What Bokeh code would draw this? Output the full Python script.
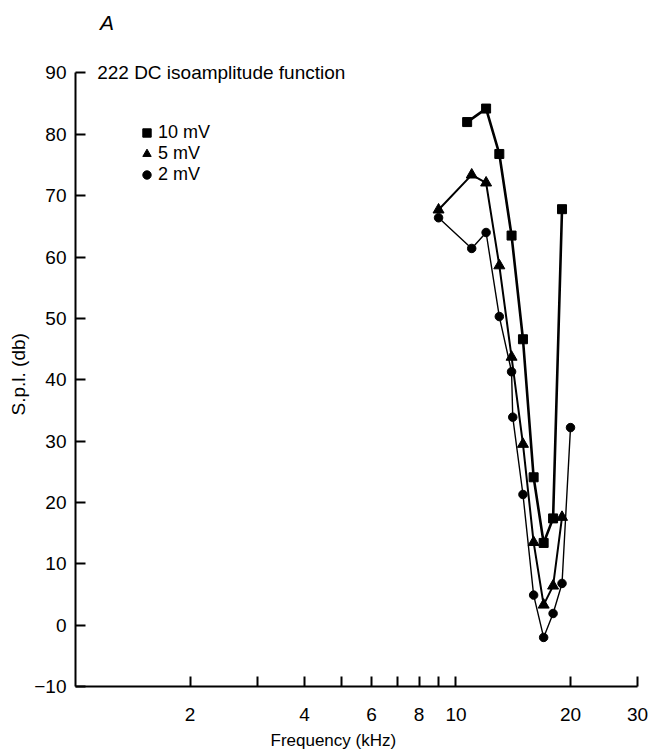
from bokeh.plotting import figure
from bokeh.models import FixedTicker, Legend, LegendItem, Label, Title
from bokeh.embed import file_html
from bokeh.resources import INLINE

# ---- data ----
freq_10mV = [10.7, 12, 13, 14, 15, 16, 17, 18, 19]
spl_10mV = [82.0, 84.2, 76.8, 63.5, 46.6, 24.1, 13.4, 17.4, 67.8]

freq_5mV = [9, 11, 12, 13, 14, 15, 16, 17, 18, 19]
spl_5mV = [67.7, 73.4, 72.1, 58.6, 43.7, 29.5, 13.5, 3.3, 6.4, 17.6]

freq_2mV = [9, 11, 12, 13, 14, 14.1, 15, 16, 17, 18, 19, 20]
spl_2mV = [66.4, 61.4, 64.0, 50.3, 41.3, 33.9, 21.3, 4.9, -2.0, 1.9, 6.8, 32.2]

x_ticks = [2, 3, 4, 5, 6, 7, 8, 9, 10, 20, 30]
x_tick_labels = {2: "2", 3: "", 4: "4", 5: "", 6: "6", 7: "", 8: "8", 9: "", 10: "10", 20: "20", 30: "30"}
y_ticks = [-10, 0, 10, 20, 30, 40, 50, 60, 70, 80, 90]
y_tick_labels = {-10: "\u221210"}

panel_label = "A"
chart_title = "222 DC isoamplitude function"
x_label = "Frequency (kHz)"
y_label = "S.p.l. (db)"
series_names = ["10 mV", "5 mV", "2 mV"]

FONT = "Liberation Sans"

p = figure(width=651, height=756, x_axis_type="log", x_range=(1, 30), y_range=(-10, 101),
           output_backend="svg", toolbar_location=None,
           min_border_left=75, min_border_right=14, min_border_top=5, min_border_bottom=70)
p.outline_line_color = None
p.xgrid.visible = False
p.ygrid.visible = False
p.background_fill_color = "white"
p.border_fill_color = "white"

for ax in (p.xaxis[0], p.yaxis[0]):
    ax.axis_line_width = 2
    ax.axis_line_color = "black"
    ax.major_tick_line_width = 2
    ax.major_tick_line_color = "black"
    ax.major_tick_in = 10
    ax.major_tick_out = 0
    ax.minor_tick_line_color = None
    ax.major_label_text_font = FONT
    ax.major_label_text_font_size = "19px"
    ax.major_label_text_color = "black"

p.xaxis[0].ticker = FixedTicker(ticks=x_ticks, minor_ticks=[])
p.xaxis[0].major_label_overrides = x_tick_labels
p.xaxis[0].major_label_standoff = 21

p.yaxis[0].ticker = FixedTicker(ticks=y_ticks, minor_ticks=[])
p.yaxis[0].major_label_overrides = y_tick_labels
p.yaxis[0].major_label_standoff = 9
p.yaxis[0].bounds = (-10, 90)

p.add_layout(Title(text=x_label, align="left", offset=195, text_font=FONT,
                   text_font_size="17px", text_font_style="normal", text_color="black",
                   standoff=10), "below")
p.add_layout(Title(text=y_label, align="left", offset=271, text_font=FONT,
                   text_font_size="19px", text_font_style="normal", text_color="black",
                   standoff=6), "left")

# lines
p.line(freq_10mV, spl_10mV, line_color="black", line_width=2.6)
p.line(freq_5mV, spl_5mV, line_color="black", line_width=2.0)
p.line(freq_2mV, spl_2mV, line_color="black", line_width=1.4)

r_sq = p.scatter(freq_10mV, spl_10mV, marker="square", size=9, color="black")
r_tri = p.scatter(freq_5mV, spl_5mV, marker="triangle", size=11, color="black")
r_circ = p.scatter(freq_2mV, spl_2mV, marker="circle", size=8.5, color="black")

legend = Legend(items=[LegendItem(label=series_names[0], renderers=[r_sq]),
                       LegendItem(label=series_names[1], renderers=[r_tri]),
                       LegendItem(label=series_names[2], renderers=[r_circ])],
                location=(61, 501), orientation="vertical",
                glyph_width=21, glyph_height=21, label_height=21, spacing=0,
                label_standoff=1, padding=0, margin=0,
                border_line_color=None, background_fill_alpha=0,
                label_text_font=FONT, label_text_font_size="18px", label_text_color="black")
p.add_layout(legend, "center")

p.add_layout(Label(x=1.14, y=90, text=chart_title, text_font=FONT, text_font_size="19px",
                   text_baseline="middle", text_color="black"))
p.add_layout(Label(x=1.16, y=98.2, text=panel_label, text_font=FONT, text_font_size="21px",
                   text_font_style="italic", text_baseline="middle", text_color="black"))

open("out.html", "w").write(file_html(p, INLINE))
